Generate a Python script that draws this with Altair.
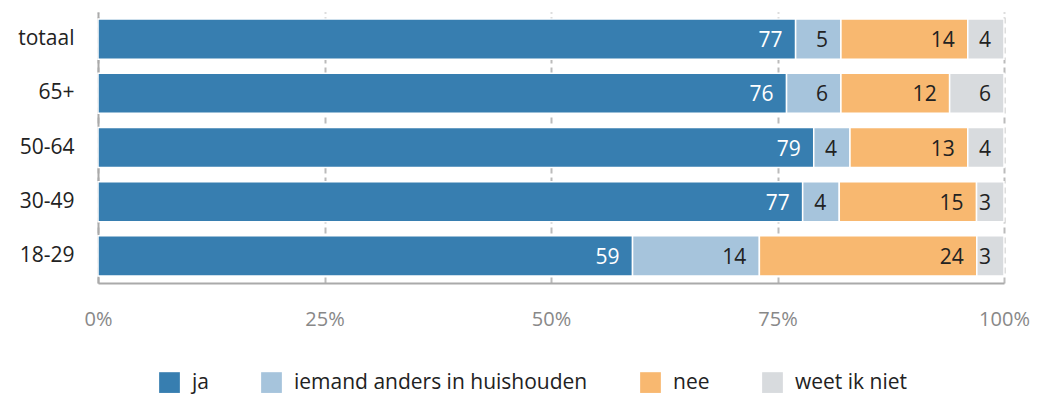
import altair as alt
import pandas as pd

groups = ["totaal", "65+", "50-64", "30-49", "18-29"]
series = ["ja", "iemand anders in huishouden", "nee", "weet ik niet"]
colors = ["#377EB0", "#A6C4DC", "#F8B870", "#D8DBDE"]
ja = [77, 76, 79, 77, 59]
iemand = [5, 6, 4, 4, 14]
nee = [14, 12, 13, 15, 24]
weet = [4, 6, 4, 3, 3]
ticks = [0, 25, 50, 75, 100]

values = [ja, iemand, nee, weet]
rows = []
for si, s in enumerate(series):
    for gi, g in enumerate(groups):
        rows.append({"group": g, "series": s, "order": si, "value": values[si][gi]})
df = pd.DataFrame(rows)

FONT = "Open Sans"

base = alt.Chart(df).transform_stack(
    stack="value",
    groupby=["group"],
    sort=[alt.SortField("order", order="ascending")],
    as_=["x0", "x1"],
    offset="normalize",
)

y_enc = alt.Y(
    "group:N",
    sort=groups,
    title=None,
    scale=alt.Scale(paddingInner=0.26, paddingOuter=0.13),
    axis=alt.Axis(
        labelFontSize=21, labelColor="#222222", labelFont=FONT, ticks=False,
        domainColor="#AAAAAA", domainWidth=2, labelPadding=24, grid=False,
    ),
)

bars = base.mark_bar(stroke="white", strokeWidth=1.5).encode(
    x=alt.X(
        "x0:Q",
        scale=alt.Scale(domain=[0, 1], nice=False),
        title=None,
        axis=alt.Axis(
            values=[t / 100 for t in ticks], format=".0%", grid=True,
            gridDash=[6, 4], gridColor="#BBBBBB", gridWidth=2,
            domainColor="#AAAAAA", domainWidth=2, ticks=False,
            labelFontSize=20, labelColor="#888888", labelFont=FONT,
            labelPadding=26, labelFlush=False, labelBound=False,
        ),
    ),
    x2="x1:Q",
    y=y_enc,
    color=alt.Color(
        "series:N",
        scale=alt.Scale(domain=series, range=colors),
        title=None,
        legend=alt.Legend(
            orient="none", legendX=61, legendY=360, direction="horizontal",
            symbolType="square", symbolSize=430, symbolStrokeWidth=0,
            labelFontSize=21, labelFont=FONT, labelColor="#222222",
            columnPadding=52, labelOffset=12, labelLimit=0,
        ),
    ),
    order=alt.Order("order:Q"),
)

labels = base.mark_text(
    align="right", baseline="middle", dx=-13, dy=2, fontSize=21, font=FONT
).encode(
    x="x1:Q",
    y=alt.Y("group:N", sort=groups),
    text=alt.Text("value:Q"),
    color=alt.condition(alt.datum.series == "ja", alt.value("white"), alt.value("#222222")),
)

chart = (
    alt.layer(bars, labels)
    .properties(
        width=906, height=271,
        autosize=alt.AutoSizeParams(type="none"),
        padding={"left": 98, "top": 12, "right": 33, "bottom": 113},
    )
    .configure_view(stroke=None)
)

chart.save("out.html", embed_options={"renderer": "svg", "actions": False})
